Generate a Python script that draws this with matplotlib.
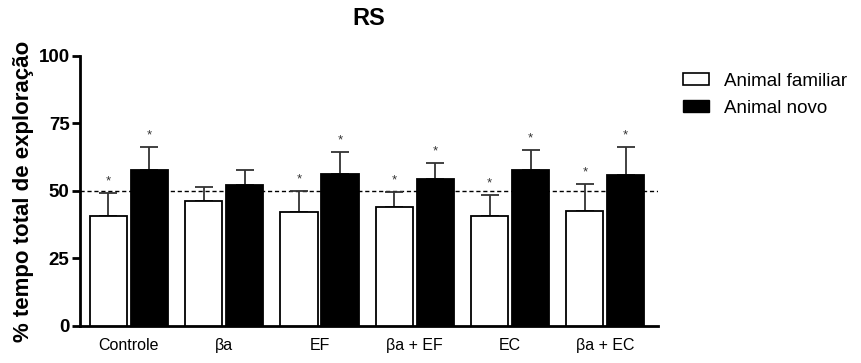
import numpy as np
import matplotlib.pyplot as plt
from matplotlib.patches import Patch

plt.rcParams['font.family'] = ['Liberation Sans', 'DejaVu Sans']

groups = ['Controle', 'βa', 'EF', 'βa + EF', 'EC', 'βa + EC']
familiar = [40.7, 46.3, 42.2, 44.1, 40.7, 42.6]
familiar_err = [8.6, 5.2, 7.8, 5.5, 7.8, 10.0]
novo = [57.8, 52.2, 56.3, 54.4, 57.8, 55.9]
novo_err = [8.5, 5.6, 8.1, 6.0, 7.4, 10.4]
star_familiar = [True, False, True, True, True, True]
star_novo = [True, False, True, True, True, True]

fig = plt.figure(figsize=(8.62, 3.63), dpi=100)
ax = fig.add_axes([0.0928, 0.102, 0.763 - 0.0928, 0.846 - 0.102])

x = np.arange(len(groups))
w = 0.39
off = 0.215

ax.bar(x - off, familiar, w, color='white', edgecolor='black', linewidth=1.3, zorder=3)
ax.bar(x + off, novo, w, color='black', edgecolor='black', linewidth=1.3, zorder=3)
ax.errorbar(x - off, familiar, yerr=[np.zeros(len(x)), familiar_err], fmt='none',
            ecolor='#333333', elinewidth=1.3, capsize=6.5, capthick=1.3, zorder=2)
ax.errorbar(x + off, novo, yerr=[np.zeros(len(x)), novo_err], fmt='none',
            ecolor='#333333', elinewidth=1.3, capsize=6.5, capthick=1.3, zorder=2)

for i in range(len(x)):
    if star_familiar[i]:
        ax.text(x[i] - off, familiar[i] + familiar_err[i] + 2, '*', ha='center', va='bottom',
                fontsize=9.5, color='#333333')
    if star_novo[i]:
        ax.text(x[i] + off, novo[i] + novo_err[i] + 2, '*', ha='center', va='bottom',
                fontsize=9.5, color='#333333')

ax.axhline(50, color='black', linestyle=(0, (3, 2)), linewidth=1, zorder=1)

ax.set_xlim(-0.514, 5.55)
ax.set_ylim(0, 100)
ax.set_yticks([0, 25, 50, 75, 100])
ax.set_xticks(x)
ax.set_xticklabels(groups, fontsize=11.5)
ax.tick_params(axis='x', length=0, pad=9)
ax.tick_params(axis='y', width=2, length=6, labelsize=13.5, pad=1.5)
for lbl in ax.get_yticklabels():
    lbl.set_fontweight('bold')
ax.spines['top'].set_visible(False)
ax.spines['right'].set_visible(False)
ax.spines['left'].set_linewidth(2)
ax.spines['bottom'].set_linewidth(2)
ax.set_ylabel('% tempo total de exploração', fontsize=16, fontweight='bold', labelpad=3)
ax.set_title('RS', fontsize=17, fontweight='bold', pad=22)

handles = [Patch(facecolor='white', edgecolor='black', linewidth=1.2, label='Animal familiar'),
           Patch(facecolor='black', edgecolor='black', label='Animal novo')]
fig.legend(handles=handles, loc='upper left', bbox_to_anchor=(683 / 862, 0.80), frameon=False,
           fontsize=13.5, handlelength=1.4, handleheight=0.6, handletextpad=0.8,
           labelspacing=0.55, borderpad=0, borderaxespad=0)

fig.savefig('out.png', dpi=100)
